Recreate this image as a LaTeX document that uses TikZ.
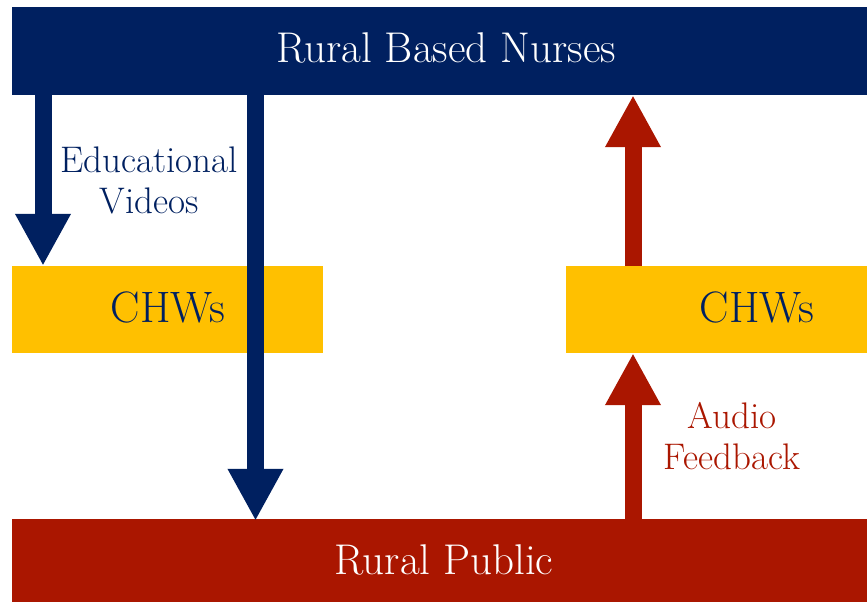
\documentclass[tikz,border=0pt]{standalone}
\usetikzlibrary{arrows.meta}
\definecolor{navy}{RGB}{0,32,96}
\definecolor{gold}{RGB}{255,192,0}
\definecolor{darkred}{RGB}{170,22,0}
\tikzset{
  bar/.style={rectangle, inner sep=0pt, minimum width=855pt, minimum height=#1},
  bartext/.style={text=white, inner sep=0pt, font=\fontsize{43}{47}\selectfont},
  chw/.style={rectangle, fill=gold, inner sep=0pt, minimum height=87pt},
  chwtext/.style={text=navy, inner sep=0pt, font=\fontsize{44}{48}\selectfont},
  bigarrow/.style={line width=17pt, -{Triangle[width=52pt,length=52pt]}, draw=#1},
  lbl/.style={align=center, inner sep=0pt, font=\fontsize{37}{41}\selectfont}
}
\begin{document}
\begin{tikzpicture}[x=1pt,y=-1pt]
\useasboundingbox (0,0) rectangle (867,602);
\node[bar=88pt, fill=navy] (top) at (439.5,51) {};
\node[bartext] (topt) at (446,48) {Rural Based Nurses};
\node[bar=83pt, fill=darkred] (pub) at (439.5,560.5) {};
\node[bartext] (pubt) at (444,560) {Rural Public};
\node[chw, minimum width=311pt] (chwL) at (167.5,309.5) {};
\node[chwtext] (chwLt) at (168,307) {CHWs};
\node[chw, minimum width=301pt] (chwR) at (716.5,309.5) {};
\node[chwtext] (chwRt) at (757,307) {CHWs};
\coordinate (xa) at (43,0);
\coordinate (xb) at (255.5,0);
\coordinate (xc) at (633,0);
\draw[bigarrow=navy] (top.south -| xa) -- (chwL.north -| xa);
\draw[bigarrow=navy] (top.south -| xb) -- ([yshift=-2pt]pub.north -| xb);
\draw[bigarrow=darkred] (pub.north -| xc) -- (chwR.south -| xc);
\draw[bigarrow=darkred] (chwR.north -| xc) -- (top.south -| xc);
\node[lbl, text=navy] (edu) at (149,180) {Educational\\Videos};
\node[lbl, text=darkred] (aud) at (732,436) {Audio\\Feedback};
\end{tikzpicture}
\end{document}
